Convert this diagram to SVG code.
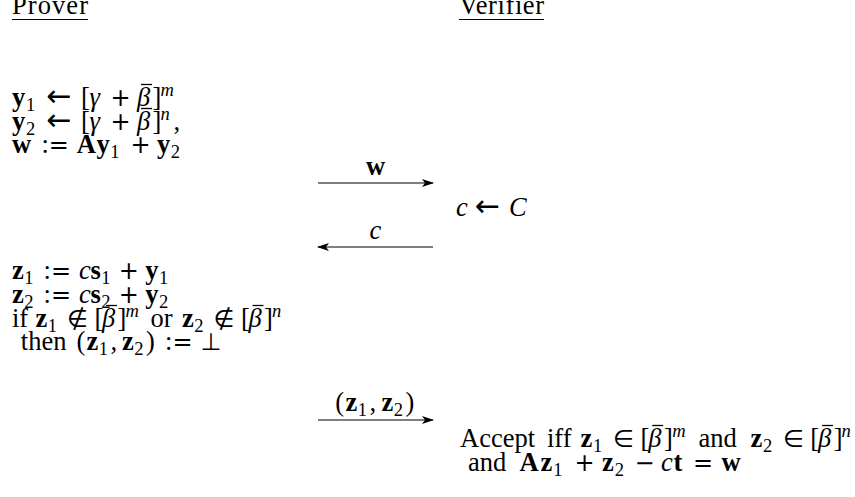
<svg xmlns="http://www.w3.org/2000/svg" width="855" height="497" viewBox="0 0 855 497">
<defs>
<style>
text{font-family:"Liberation Serif","Times New Roman",serif;font-size:26.5px;fill:#000}
.b{font-weight:bold}
.i{font-style:italic}
.s{font-size:18.5px}
.m{font-family:"DejaVu Sans",sans-serif;font-size:24px}
.ar{font-family:"DejaVu Sans",sans-serif;font-size:30px}
.bar{stroke:#000;stroke-width:1.3}
.u{stroke:#000;stroke-width:1.2}
.arr{stroke:#000;stroke-width:1.2;fill:none;marker-end:url(#ah)}
</style>
<marker id="ah" markerWidth="12" markerHeight="8" refX="11" refY="4" orient="auto" markerUnits="userSpaceOnUse">
<path d="M0,0 L12,4 L0,8 L3,4 Z" fill="#000"/>
</marker>
</defs>
<rect width="855" height="497" fill="#fff"/>
<g id="prover-title"><text x="12" y="14" textLength="76" lengthAdjust="spacing">Prover</text><line class="u" x1="12" y1="19.5" x2="88" y2="19.5"/></g>
<g id="verifier-title"><text x="459" y="14" textLength="85" lengthAdjust="spacing">Verifier</text><line class="u" x1="459" y1="19.5" x2="544" y2="19.5"/></g>
<g id="prover-commit">
<text><tspan class="b" x="12" y="106">y</tspan><tspan class="s" x="26" y="111">1</tspan><tspan class="ar" x="46.5" y="106">←</tspan><tspan x="81" y="106">[</tspan><tspan class="i" x="89.5" y="106">γ</tspan><tspan class="m" x="110.5" y="106">+</tspan><tspan class="i" x="137" y="106">β</tspan><tspan x="152.5" y="106">]</tspan><tspan class="s i" x="160.5" y="96">m</tspan></text>
<line class="bar" x1="141" y1="84.5" x2="152" y2="84.5"/>
<text><tspan class="b" x="12" y="130">y</tspan><tspan class="s" x="26" y="135">2</tspan><tspan class="ar" x="46.5" y="130">←</tspan><tspan x="81" y="130">[</tspan><tspan class="i" x="89.5" y="130">γ</tspan><tspan class="m" x="110.5" y="130">+</tspan><tspan class="i" x="137" y="130">β</tspan><tspan x="152.5" y="130">]</tspan><tspan class="s i" x="160.5" y="120">n</tspan><tspan x="173.5" y="130">,</tspan></text>
<line class="bar" x1="141" y1="108.5" x2="152" y2="108.5"/>
<text><tspan class="b" x="12" y="153">w</tspan><tspan x="41.4" y="153">:</tspan><tspan class="m" x="48.8" y="153">=</tspan><tspan class="b" x="76.8" y="153">A</tspan><tspan class="b" x="96.5" y="153">y</tspan><tspan class="s" x="110.3" y="158">1</tspan><tspan class="m" x="130.5" y="153">+</tspan><tspan class="b" x="157" y="153">y</tspan><tspan class="s" x="170.8" y="158">2</tspan></text>
</g>
<g id="verifier-challenge"><text><tspan class="i" x="456" y="216">c</tspan><tspan class="ar" x="474.9" y="216">←</tspan><tspan class="i" x="509" y="216">C</tspan></text></g>
<g id="prover-response">
<text><tspan class="b" x="12" y="279">z</tspan><tspan class="s" x="24.3" y="284">1</tspan><tspan x="43.5" y="279">:</tspan><tspan class="m" x="50.9" y="279">=</tspan><tspan class="i" x="78.9" y="279">c</tspan><tspan class="b" x="90.4" y="279">s</tspan><tspan class="s" x="101.2" y="284">1</tspan><tspan class="m" x="118.7" y="279">+</tspan><tspan class="b" x="145.2" y="279">y</tspan><tspan class="s" x="159" y="284">1</tspan></text>
<text><tspan class="b" x="12" y="303">z</tspan><tspan class="s" x="24.3" y="308">2</tspan><tspan x="43.5" y="303">:</tspan><tspan class="m" x="50.9" y="303">=</tspan><tspan class="i" x="78.9" y="303">c</tspan><tspan class="b" x="90.4" y="303">s</tspan><tspan class="s" x="101.2" y="308">2</tspan><tspan class="m" x="118.7" y="303">+</tspan><tspan class="b" x="145.2" y="303">y</tspan><tspan class="s" x="159" y="308">2</tspan></text>
<text><tspan x="12" y="327">if</tspan><tspan class="b" x="35.5" y="327">z</tspan><tspan class="s" x="47.8" y="332">1</tspan><tspan class="m" x="67" y="327">∉</tspan><tspan x="94.5" y="327">[</tspan><tspan class="i" x="102" y="327">β</tspan><tspan x="117.5" y="327">]</tspan><tspan class="s i" x="125.5" y="317">m</tspan><tspan x="150.5" y="327">or</tspan><tspan class="b" x="182" y="327">z</tspan><tspan class="s" x="194.3" y="332">2</tspan><tspan class="m" x="213.5" y="327">∉</tspan><tspan x="241" y="327">[</tspan><tspan class="i" x="248.5" y="327">β</tspan><tspan x="264" y="327">]</tspan><tspan class="s i" x="272" y="317">n</tspan></text>
<line class="bar" x1="106" y1="305.5" x2="117" y2="305.5"/>
<line class="bar" x1="252.5" y1="305.5" x2="263.5" y2="305.5"/>
<text><tspan x="20.8" y="350">then</tspan><tspan x="76.5" y="350">(</tspan><tspan class="b" x="86.5" y="350">z</tspan><tspan class="s" x="98.8" y="355">1</tspan><tspan x="110.5" y="350">,</tspan><tspan class="b" x="122" y="350">z</tspan><tspan class="s" x="134.3" y="355">2</tspan><tspan x="146" y="350">)</tspan><tspan x="165" y="350">:</tspan><tspan class="m" x="172.4" y="350">=</tspan><tspan class="m" x="200.5" y="350">⊥</tspan></text>
</g>
<g id="verifier-check">
<text><tspan x="460" y="447">Accept</tspan><tspan x="547" y="447">iff</tspan><tspan class="b" x="580.5" y="447">z</tspan><tspan class="s" x="593" y="452">1</tspan><tspan class="m" x="613" y="447">∈</tspan><tspan x="640.5" y="447">[</tspan><tspan class="i" x="648.2" y="447">β</tspan><tspan x="664.1" y="447">]</tspan><tspan class="s i" x="672.2" y="437">m</tspan><tspan x="698.5" y="447">and</tspan><tspan class="b" x="750.5" y="447">z</tspan><tspan class="s" x="763" y="452">2</tspan><tspan class="m" x="783" y="447">∈</tspan><tspan x="810.3" y="447">[</tspan><tspan class="i" x="818" y="447">β</tspan><tspan x="833.8" y="447">]</tspan><tspan class="s i" x="841.6" y="437">n</tspan></text>
<line class="bar" x1="652.2" y1="425.5" x2="663.2" y2="425.5"/>
<line class="bar" x1="822" y1="425.5" x2="833" y2="425.5"/>
<text><tspan x="468" y="471">and</tspan><tspan class="b" x="519.5" y="471">A</tspan><tspan class="b" x="540.5" y="471">z</tspan><tspan class="s" x="553.2" y="476">1</tspan><tspan class="m" x="574.5" y="471">+</tspan><tspan class="b" x="602" y="471">z</tspan><tspan class="s" x="614.7" y="476">2</tspan><tspan class="m" x="634.5" y="471">−</tspan><tspan class="i" x="661" y="471">c</tspan><tspan class="b" x="673.5" y="471">t</tspan><tspan class="m" x="693" y="471">=</tspan><tspan class="b" x="721.6" y="471">w</tspan></text>
</g>
<g id="connectors">
<line class="arr" x1="318" y1="183" x2="433" y2="183"/>
<text x="375.5" y="175" text-anchor="middle" class="b">w</text>
<line class="arr" x1="433" y1="247" x2="318" y2="247"/>
<text x="375.5" y="239" text-anchor="middle" class="i">c</text>
<line class="arr" x1="318" y1="420" x2="433" y2="420"/>
<text><tspan x="335.2" y="411">(</tspan><tspan class="b" x="345.5" y="411">z</tspan><tspan class="s" x="357.8" y="416">1</tspan><tspan x="369.6" y="411">,</tspan><tspan class="b" x="381.4" y="411">z</tspan><tspan class="s" x="393.7" y="416">2</tspan><tspan x="405.5" y="411">)</tspan></text>
</g>
</svg>
